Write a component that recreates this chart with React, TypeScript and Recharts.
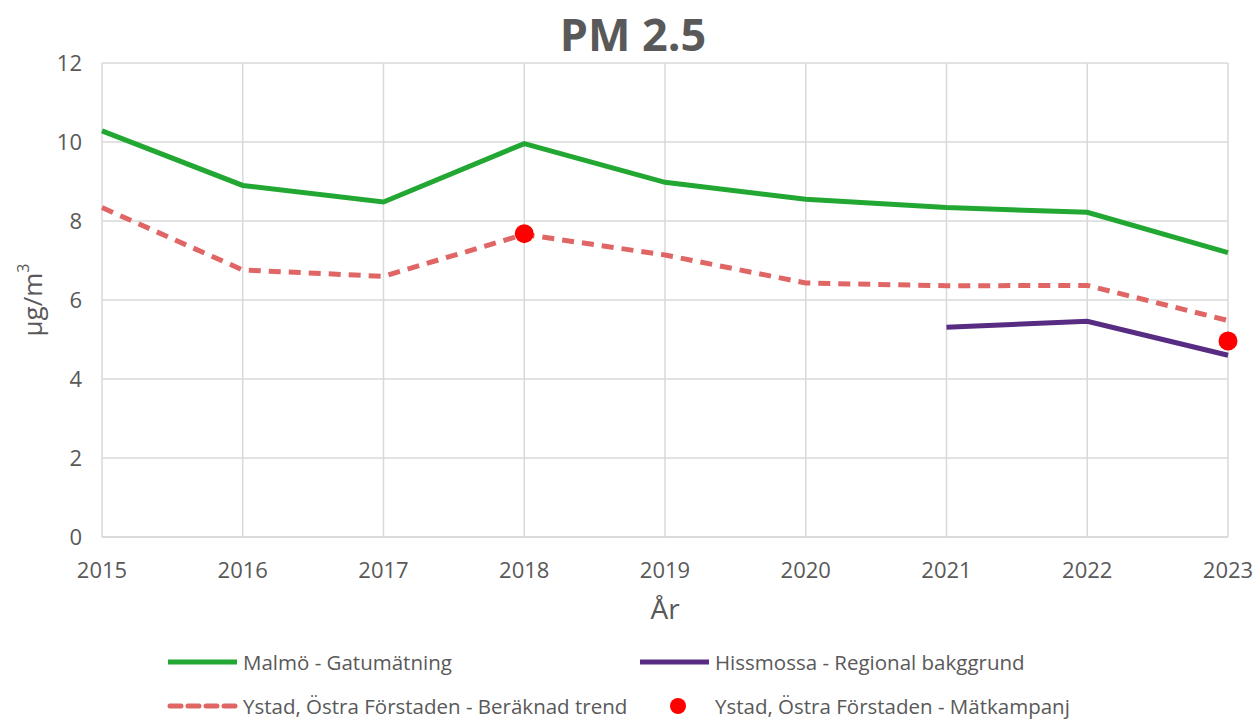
import React from 'react';
import { ComposedChart, Line, XAxis, YAxis, CartesianGrid } from 'recharts';

const years = ['2015', '2016', '2017', '2018', '2019', '2020', '2021', '2022', '2023'];
const malmo = [10.28, 8.9, 8.48, 9.96, 8.98, 8.55, 8.34, 8.22, 7.2];
const ystadTrend = [8.34, 6.76, 6.6, 7.66, 7.14, 6.43, 6.36, 6.37, 5.48];
const hissmossa = [null, null, null, null, null, null, 5.31, 5.46, 4.6];
const matkampanj = [null, null, null, 7.68, null, null, null, null, 4.96];
const yTicks = [0, 2, 4, 6, 8, 10, 12];

const data = years.map((y, i) => ({
  year: y,
  malmo: malmo[i],
  ystad: ystadTrend[i],
  hiss: hissmossa[i],
  mat: matkampanj[i],
}));

const FONT = '"Open Sans", sans-serif';
const TXT = '#595959';

const legendItems = [
  { label: 'Malmö - Gatumätning', type: 'solid', color: '#22a832' },
  { label: 'Hissmossa - Regional bakggrund', type: 'solid', color: '#582c83' },
  { label: 'Ystad, Östra Förstaden - Beräknad trend', type: 'dash', color: '#e06666' },
  { label: 'Ystad, Östra Förstaden - Mätkampanj', type: 'dot', color: '#ff0000' },
];

const LegendBlock = () => (
  <div style={{ position: 'absolute', left: 0, top: 649, width: 1258, height: 71, fontFamily: FONT, fontSize: 20.5, color: TXT }}>
    {legendItems.map((it, i) => {
      const col = i % 2;
      const row = Math.floor(i / 2);
      const left = col === 0 ? 167 : 639;
      const top = row * 44;
      return (
        <div key={i} style={{ position: 'absolute', left, top, display: 'flex', alignItems: 'center', height: 26, whiteSpace: 'nowrap', lineHeight: '26px' }}>
          <svg width={72} height={20} style={{ marginRight: 4 }}>
            {it.type === 'solid' && <line x1={1} y1={10} x2={70} y2={10} stroke={it.color} strokeWidth={5} />}
            {it.type === 'dash' && <line x1={3} y1={10} x2={70} y2={10} stroke={it.color} strokeWidth={5} strokeDasharray="11 7" strokeLinecap="round" />}
            {it.type === 'dot' && <circle cx={39} cy={10} r={8} fill={it.color} />}
          </svg>
          <span>{it.label}</span>
        </div>
      );
    })}
  </div>
);

const YLabel = (props: any) => {
  const { viewBox } = props;
  const cx = 35;
  const cy = viewBox.y + viewBox.height / 2;
  return (
    <text x={cx} y={cy} transform={`rotate(-90 ${cx} ${cy})`} textAnchor="middle" dominantBaseline="middle" fontFamily={FONT} fontSize={26} fill={TXT}>
      µg/m<tspan dy={-10} fontSize={16}>3</tspan>
    </text>
  );
};

export default function App() {
  return (
    <div style={{ position: 'absolute', left: 0, top: 0, width: 1258, height: 720, background: '#fff', overflow: 'hidden' }}>
      <div style={{ position: 'absolute', left: 0, top: 6, width: 1266, textAlign: 'center', fontFamily: FONT, fontWeight: 700, fontSize: 45, color: TXT, lineHeight: '56px' }}>
        PM 2.5
      </div>
      <ComposedChart width={1258} height={720} data={data} margin={{ top: 63, right: 30, bottom: 83, left: 22 }}>
        <CartesianGrid stroke="#d9d9d9" strokeWidth={1.5} />
        <XAxis
          dataKey="year"
          tick={{ fontFamily: FONT, fontSize: 22, fill: TXT }}
          tickLine={false}
          axisLine={{ stroke: '#d9d9d9', strokeWidth: 1.5 }}
          tickMargin={19}
          height={100}
          label={{ value: 'År', position: 'insideTop', offset: 62, fontFamily: FONT, fontSize: 28, fill: TXT }}
        />
        <YAxis
          domain={[0, 12]}
          ticks={yTicks}
          tick={{ fontFamily: FONT, fontSize: 22, fill: TXT }}
          tickLine={false}
          axisLine={false}
          tickMargin={14}
          width={80}
          label={<YLabel />}
        />
        <Line dataKey="malmo" stroke="#22a832" strokeWidth={5} dot={false} isAnimationActive={false} />
        <Line dataKey="hiss" stroke="#582c83" strokeWidth={5} dot={false} isAnimationActive={false} connectNulls={false} />
        <Line dataKey="ystad" stroke="#e06666" strokeWidth={5} strokeDasharray="12 8" dot={false} isAnimationActive={false} />
        <Line dataKey="mat" stroke="none" strokeWidth={0} dot={{ r: 9.5, fill: '#ff0000', stroke: 'none' }} activeDot={false} isAnimationActive={false} />
      </ComposedChart>
      <LegendBlock />
    </div>
  );
}
